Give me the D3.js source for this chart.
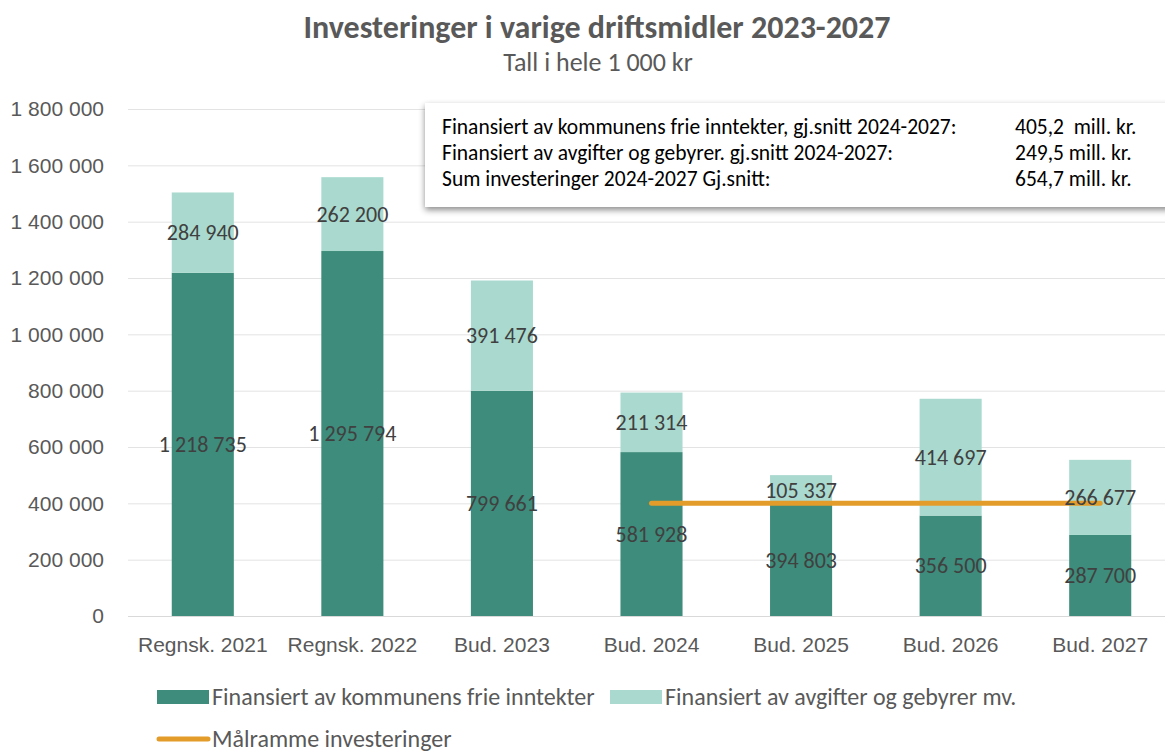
<!DOCTYPE html>
<html lang="no">
<head>
    <meta charset="UTF-8">
    <title>Investeringer i varige driftsmidler 2023-2027</title>
    <style>
        body {
            margin: 0;
            background: #fff;
            font-family: Carlito, Lato, 'Open Sans', sans-serif;
        }

        .title {
            font-weight: bold;
            font-size: 32px;
            fill: #595959;
        }

        .subtitle {
            font-size: 26px;
            fill: #595959;
        }

        .axis text {
            font-size: 21px;
            fill: #595959;
        }

        .label {
            font-size: 22px;
            fill: #404040;
        }

        .legend text {
            font-size: 24px;
            fill: #595959;
        }

        .info text {
            font-size: 21.5px;
            fill: #000;
            white-space: pre;
        }
    </style>
</head>
<body>
    <div id="chart"></div>

    <script src="https://d3js.org/d3.v7.min.js"></script>
    <script>
        const categories = ["Regnsk. 2021", "Regnsk. 2022", "Bud. 2023", "Bud. 2024", "Bud. 2025", "Bud. 2026", "Bud. 2027"];
        const frieInntekter = [1218735, 1295794, 799661, 581928, 394803, 356500, 287700];
        const avgifter = [284940, 262200, 391476, 211314, 105337, 414697, 266677];
        const maalramme = [null, null, null, 400000, 400000, 400000, 400000];
        const yTicks = [0, 200000, 400000, 600000, 800000, 1000000, 1200000, 1400000, 1600000, 1800000];
        const infoRows = [
            ["Finansiert av kommunens frie inntekter, gj.snitt 2024-2027:", "405,2  mill. kr."],
            ["Finansiert av avgifter og gebyrer. gj.snitt 2024-2027:", "249,5 mill. kr."],
            ["Sum investeringer 2024-2027 Gj.snitt:", "654,7 mill. kr."]
        ];

        const width = 1165;
        const height = 753;
        const plotLeft = 128, plotRight = 1175, plotTop = 109, plotBottom = 616;

        const dark = "#3e8c7b";
        const light = "#aadacf";
        const orange = "#e39c2a";

        const fmt = v => d3.format(",")(v).replace(/,/g, " ");

        const svg = d3.select("#chart")
            .append("svg")
            .attr("width", width)
            .attr("height", height);

        // shadow for the info box
        const defs = svg.append("defs");
        const filter = defs.append("filter")
            .attr("id", "shadow")
            .attr("x", "-5%").attr("y", "-10%")
            .attr("width", "110%").attr("height", "130%");
        filter.append("feDropShadow")
            .attr("dx", 0).attr("dy", 3)
            .attr("stdDeviation", 3)
            .attr("flood-color", "#000")
            .attr("flood-opacity", 0.45);

        const x = d3.scaleBand()
            .domain(categories)
            .range([plotLeft, plotRight])
            .paddingInner(0.585)
            .paddingOuter(0.2925);

        const y = d3.scaleLinear()
            .domain([0, 1800000])
            .range([plotBottom, plotTop]);

        // title
        svg.append("text")
            .attr("class", "title")
            .attr("x", 597).attr("y", 38)
            .attr("text-anchor", "middle")
            .text("Investeringer i varige driftsmidler 2023-2027");

        svg.append("text")
            .attr("class", "subtitle")
            .attr("x", 598).attr("y", 71)
            .attr("text-anchor", "middle")
            .text("Tall i hele 1 000 kr");

        // gridlines
        svg.append("g")
            .selectAll("line")
            .data(yTicks.slice(1))
            .join("line")
            .attr("x1", plotLeft).attr("x2", plotRight)
            .attr("y1", d => y(d) + 0.5).attr("y2", d => y(d) + 0.5)
            .attr("stroke", "#e3e3e3");

        // y axis
        const yAxis = d3.axisLeft(y)
            .tickValues(yTicks)
            .tickFormat(fmt)
            .tickSize(0)
            .tickPadding(24);

        svg.append("g")
            .attr("class", "y axis")
            .attr("transform", `translate(${plotLeft},0)`)
            .call(yAxis)
            .select(".domain").remove();

        // stacked bars
        const stacked = d3.stack().keys([0, 1])(categories.map((c, i) => [frieInntekter[i], avgifter[i]]));
        const colors = [dark, light];

        stacked.forEach((layer, k) => {
            svg.append("g")
                .selectAll("rect")
                .data(layer)
                .join("rect")
                .attr("x", (d, i) => x(categories[i]))
                .attr("width", x.bandwidth())
                .attr("y", d => y(d[1]))
                .attr("height", d => y(d[0]) - y(d[1]))
                .attr("fill", colors[k]);
        });

        // baseline
        svg.append("line")
            .attr("x1", plotLeft).attr("x2", plotRight)
            .attr("y1", plotBottom + 0.5).attr("y2", plotBottom + 0.5)
            .attr("stroke", "#d9d9d9");

        // x axis
        const xAxis = d3.axisBottom(x)
            .tickSize(0)
            .tickPadding(21);

        svg.append("g")
            .attr("class", "x axis")
            .attr("transform", `translate(0,${plotBottom})`)
            .call(xAxis)
            .select(".domain").remove();

        // target line
        const line = d3.line()
            .defined(d => d.v !== null)
            .x(d => x(d.c) + x.bandwidth() / 2)
            .y(d => y(d.v));

        svg.append("path")
            .datum(categories.map((c, i) => ({ c: c, v: maalramme[i] })))
            .attr("d", line)
            .attr("fill", "none")
            .attr("stroke", orange)
            .attr("stroke-width", 5)
            .attr("stroke-linecap", "round");

        // data labels
        stacked.forEach(layer => {
            svg.append("g")
                .selectAll("text")
                .data(layer)
                .join("text")
                .attr("class", "label")
                .attr("x", (d, i) => x(categories[i]) + x.bandwidth() / 2)
                .attr("y", d => y((d[0] + d[1]) / 2))
                .attr("dy", "0.35em")
                .attr("text-anchor", "middle")
                .text(d => fmt(d[1] - d[0]));
        });

        // info box
        const info = svg.append("g").attr("class", "info");
        info.append("rect")
            .attr("x", 425).attr("y", 103)
            .attr("width", 760).attr("height", 104)
            .attr("fill", "#fff")
            .attr("filter", "url(#shadow)");

        info.selectAll("g.row")
            .data(infoRows)
            .join("g")
            .attr("class", "row")
            .attr("transform", (d, i) => `translate(0,${126 + i * 26})`)
            .each(function (d) {
                d3.select(this).append("text").attr("x", 442).attr("dy", "0.35em").text(d[0]);
                d3.select(this).append("text").attr("x", 1015).attr("dy", "0.35em").text(d[1]);
            });

        // legend
        const legend = svg.append("g").attr("class", "legend");
        const legendItems = [
            { label: "Finansiert av kommunens frie inntekter", color: dark, type: "rect", x: 157, y: 697 },
            { label: "Finansiert av avgifter og gebyrer mv.", color: light, type: "rect", x: 610, y: 697 },
            { label: "Målramme investeringer", color: orange, type: "line", x: 157, y: 739 }
        ];

        legendItems.forEach(item => {
            const g = legend.append("g");
            if (item.type === "rect") {
                g.append("rect")
                    .attr("x", item.x).attr("y", item.y - 7)
                    .attr("width", 52).attr("height", 14)
                    .attr("fill", item.color);
            } else {
                g.append("line")
                    .attr("x1", item.x + 2).attr("x2", item.x + 51)
                    .attr("y1", item.y).attr("y2", item.y)
                    .attr("stroke", item.color)
                    .attr("stroke-width", 5)
                    .attr("stroke-linecap", "round");
            }
            g.append("text")
                .attr("x", item.x + 55)
                .attr("y", item.y)
                .attr("dy", "0.35em")
                .text(item.label);
        });
    </script>
</body>
</html>
